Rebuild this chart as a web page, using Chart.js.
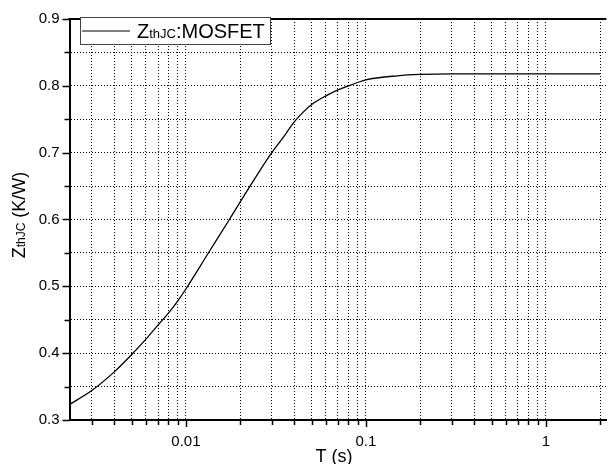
<!DOCTYPE html>
<html>
<head>
<meta charset="utf-8">
<script src="https://cdn.jsdelivr.net/npm/chart.js@4.4.1/dist/chart.umd.min.js"></script>
<style>
  html, body { margin: 0; padding: 0; background: #fff; }
  #wrap { width: 613px; height: 464px; position: relative; }
</style>
</head>
<body>
<div id="wrap"><canvas id="chart"></canvas></div>
<script>
// thermal impedance curve
const timeS = [0.00225, 0.003, 0.004, 0.005, 0.006, 0.007, 0.008, 0.009, 0.01, 0.0132, 0.01745, 0.0225,
  0.03, 0.035, 0.04, 0.045, 0.05, 0.06, 0.07, 0.08, 0.09, 0.1, 0.15, 0.2, 0.3, 0.5, 1, 2];
const zthJC = [0.323, 0.344, 0.372, 0.398, 0.421, 0.442, 0.460, 0.478, 0.496, 0.548, 0.600, 0.648,
  0.700, 0.724, 0.746, 0.761, 0.772, 0.785, 0.794, 0.800, 0.805, 0.809, 0.815, 0.817, 0.818, 0.818, 0.818, 0.818];

const xGridValues = [0.003, 0.004, 0.005, 0.006, 0.007, 0.008, 0.009,
  0.01, 0.02, 0.03, 0.04, 0.05, 0.06, 0.07, 0.08, 0.09,
  0.1, 0.2, 0.3, 0.4, 0.5, 0.6, 0.7, 0.8, 0.9, 1, 2];
const xLabels = { 0.01: '0.01', 0.1: '0.1', 1: '1' };
const yMin = 0.3, yMax = 0.9, yStep = 0.05;

const FONT = '"Liberation Sans", Arial, sans-serif';
const isTenth = v => Math.abs(v * 10 - Math.round(v * 10)) < 1e-6;

// draws text pieces one after another, [text, size] pairs
function runText(ctx, parts, x, y) {
  parts.forEach(([s, f]) => {
    ctx.font = f + 'px ' + FONT;
    ctx.fillText(s, x, y);
    x += ctx.measureText(s).width;
  });
}
function runWidth(ctx, parts) {
  return parts.reduce((w, [s, f]) => { ctx.font = f + 'px ' + FONT; return w + ctx.measureText(s).width; }, 0);
}

const decor = {
  id: 'decor',
  afterDraw(chart) {
    const { ctx, chartArea: a, scales: { x, y } } = chart;
    ctx.save();
    ctx.strokeStyle = '#000';
    // top frame line
    ctx.lineWidth = 2;
    ctx.beginPath(); ctx.moveTo(a.left - 1, a.top); ctx.lineTo(a.right, a.top); ctx.stroke();

    // tick marks, outward
    ctx.lineWidth = 1.5;
    x.ticks.forEach(t => {
      const px = Math.round(x.getPixelForValue(t.value)) + 0.5;
      const len = xLabels[t.value] ? 7 : 5;
      ctx.beginPath(); ctx.moveTo(px, a.bottom); ctx.lineTo(px, a.bottom + len); ctx.stroke();
    });
    y.ticks.forEach(t => {
      const py = Math.round(y.getPixelForValue(t.value)) + 0.5;
      const len = isTenth(t.value) ? 7 : 5;
      ctx.beginPath(); ctx.moveTo(a.left, py); ctx.lineTo(a.left - len, py); ctx.stroke();
    });

    // legend box
    ctx.fillStyle = '#fff';
    ctx.fillRect(80.5, 17.5, 190, 27);
    ctx.lineWidth = 1;
    ctx.strokeStyle = '#444';
    ctx.strokeRect(80.5, 17.5, 190, 27);
    ctx.strokeStyle = '#000';
    ctx.lineWidth = 1.2;
    ctx.beginPath(); ctx.moveTo(82, 31); ctx.lineTo(130, 31); ctx.stroke();
    ctx.fillStyle = '#000';
    ctx.textBaseline = 'alphabetic';
    ctx.textAlign = 'left';
    runText(ctx, [['Z', 20], ['thJC', 13], [':MOSFET', 20]], 137, 38);

    // y title, rotated
    ctx.save();
    ctx.translate(25, 215);
    ctx.rotate(-Math.PI / 2);
    const yParts = [['Z', 18], ['thJC', 12], [' (K/W)', 18]];
    runText(ctx, yParts, -runWidth(ctx, yParts) / 2, 0);
    ctx.restore();

    // x title
    ctx.font = '18px ' + FONT;
    ctx.textAlign = 'center';
    ctx.fillText('T (s)', 334, 462);
    ctx.restore();
  }
};

new Chart(document.getElementById('chart'), {
  type: 'line',
  data: {
    datasets: [{
      label: 'ZthJC:MOSFET',
      data: timeS.map((t, i) => ({ x: t, y: zthJC[i] })),
      borderColor: '#000',
      borderWidth: 1.3,
      pointRadius: 0,
      cubicInterpolationMode: 'monotone',
      fill: false
    }]
  },
  plugins: [decor],
  options: {
    responsive: true,
    maintainAspectRatio: false,
    animation: false,
    devicePixelRatio: 1,
    layout: { padding: { top: 15.5, right: 0, left: 0, bottom: 0 } },
    plugins: { legend: { display: false }, tooltip: { enabled: false } },
    scales: {
      x: {
        type: 'logarithmic',
        min: 0.002256,
        max: 2.17,
        afterBuildTicks: s => { s.ticks = xGridValues.map(v => ({ value: v })); },
        afterFit: s => { s.height = 44; },
        ticks: {
          autoSkip: false, maxRotation: 0, padding: 13,
          color: '#000', font: { family: FONT, size: 15 },
          callback: v => xLabels[v] || ''
        },
        grid: { color: '#000', lineWidth: 1, drawTicks: false },
        border: { display: true, color: '#000', width: 2, dash: [1, 2] }
      },
      y: {
        min: yMin, max: yMax,
        afterFit: s => { s.width = 69.5; },
        ticks: {
          stepSize: yStep, padding: 10,
          color: '#000', font: { family: FONT, size: 15 },
          callback: v => isTenth(v) ? v.toFixed(1) : ''
        },
        grid: { color: '#000', lineWidth: 1, drawTicks: false },
        border: { display: true, color: '#000', width: 2, dash: [1, 2] }
      }
    }
  }
});
</script>
</body>
</html>
